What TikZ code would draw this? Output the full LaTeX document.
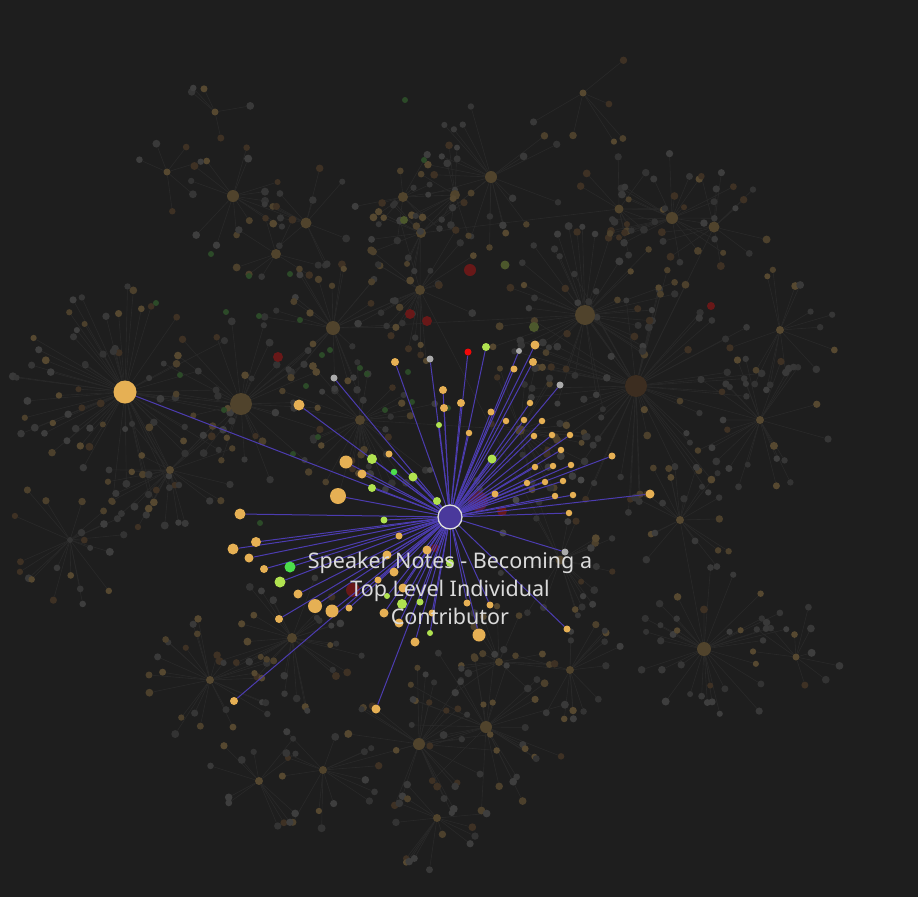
\documentclass[tikz,border=0pt]{standalone}
\usepackage{fontspec}
\setmainfont{Noto Sans}
\usetikzlibrary{calc}

\definecolor{canvas}{RGB}{30,30,30}
\definecolor{webline}{RGB}{41,41,41}
\definecolor{linkpurple}{RGB}{76,60,176}
\definecolor{hubpurple}{RGB}{74,57,156}
\definecolor{noteorange}{RGB}{230,176,84}
\definecolor{notelime}{RGB}{176,226,80}
\definecolor{notegreen}{RGB}{76,221,76}
\definecolor{notered}{RGB}{240,8,8}
\definecolor{notegrey}{RGB}{170,170,170}
\definecolor{dim0}{RGB}{51,51,51}
\definecolor{dim1}{RGB}{57,57,57}
\definecolor{dim2}{RGB}{62,62,62}
\definecolor{dim3}{RGB}{86,72,48}
\definecolor{dim4}{RGB}{62,49,36}
\definecolor{dim5}{RGB}{54,54,54}
\definecolor{dim6}{RGB}{76,64,44}
\definecolor{dimgreen}{RGB}{44,74,40}
\definecolor{dimhub}{RGB}{80,67,44}
\definecolor{dimbrown}{RGB}{60,45,32}
\definecolor{dimred}{RGB}{104,24,24}
\definecolor{dimplum}{RGB}{86,30,62}
\definecolor{dimolive}{RGB}{76,88,44}
\definecolor{dimgrey}{RGB}{72,72,72}

\pgfdeclarelayer{ground}
\pgfdeclarelayer{web}
\pgfdeclarelayer{links}
\pgfdeclarelayer{front}
\pgfsetlayers{ground,web,main,links,front}

% hubs of the faded clusters: x/y/size/colour/dots/spread
\def\clusters{
  125/392/23/dimhub/70/95, 241/404/22/dimhub/30/70, 636/386/22/dimbrown/60/110,
  585/315/20/dimhub/40/80, 333/328/14/dimhub/25/55, 233/196/12/dimhub/14/45,
  306/223/11/dimhub/12/45, 276/254/10/dimhub/8/35, 167/172/7/dim3/6/35,
  215/112/7/dim3/5/35, 491/177/12/dimhub/22/60, 403/197/10/dimhub/12/40,
  455/195/10/dimhub/10/40, 421/233/10/dimhub/12/40, 583/93/7/dim3/6/50,
  672/218/12/dimhub/25/55, 714/227/11/dimhub/12/45, 619/209/9/dimhub/12/40,
  704/649/14/dimhub/35/70, 486/727/12/dimhub/30/75, 419/744/12/dimhub/25/65,
  323/770/8/dimhub/15/50, 259/781/8/dim3/12/45, 437/818/8/dimhub/14/45,
  292/638/10/dimhub/30/65, 499/662/8/dimhub/15/45, 570/670/8/dimhub/15/45,
  796/657/7/dim3/10/40, 760/420/8/dim3/25/60, 210/680/8/dim3/25/60,
  70/540/6/dim0/22/55, 360/420/10/dimhub/35/70, 520/430/10/dimhub/25/60,
  420/290/10/dimhub/25/60, 560/560/9/dimhub/20/50, 170/470/8/dim3/25/55,
  680/520/8/dim3/20/55, 780/330/8/dim3/15/50}

% notes linked to the hovered one: x/y/size/colour
\def\notes{
  125/392/23/noteorange, 334/378/7/notegrey, 299/405/11/noteorange,
  395/362/8/noteorange, 430/359/7/notegrey, 468/352/7/notered,
  486/347/8/notelime, 519/351/6/notegrey, 535/345/9/noteorange,
  533/362/8/noteorange, 514/369/7/noteorange, 560/385/7/notegrey,
  443/390/8/noteorange, 461/403/8/noteorange, 444/408/8/noteorange,
  439/425/6/notelime, 491/412/7/noteorange, 530/403/6.5/noteorange,
  506/421/6.5/noteorange, 524/420/6.5/noteorange, 542/421/6.5/noteorange,
  469/433/6.5/noteorange, 534/436/6.5/noteorange, 552/435/6.5/noteorange,
  570/435/6.5/noteorange, 561/450/6.5/noteorange, 612/456/7/noteorange,
  492/459/9/notelime, 535/467/6.5/noteorange, 553/466/6.5/noteorange,
  571/465/6.5/noteorange, 527/483/6.5/noteorange, 545/482/6.5/noteorange,
  563/481/6.5/noteorange, 495/494/7/noteorange, 555/496/6.5/noteorange,
  573/495/6.5/noteorange, 650/494/9/noteorange, 569/513/6.5/noteorange,
  389/454/7/noteorange, 372/459/10/notelime, 346/462/13/noteorange,
  362/474/9/noteorange, 394/472/6.5/notegreen, 413/477/9/notelime,
  372/488/8/notelime, 338/496/16/noteorange, 437/501/8/notelime,
  240/514/11/noteorange, 384/520/7/notelime, 256/542/10/noteorange,
  233/549/11/noteorange, 399/536/7/noteorange, 249/558/9/noteorange,
  264/569/8/noteorange, 290/567/11/notegreen, 280/582/11/notelime,
  298/594/9/noteorange, 315/606/14/noteorange, 332/611/13/noteorange,
  349/608/7/noteorange, 279/619/8/noteorange, 427/550/9/noteorange,
  387/555/9/noteorange, 394/572/9/noteorange, 378/580/7/noteorange,
  403/588/9/noteorange, 387/596/6/notelime, 402/604/10/notelime,
  420/602/7/notelime, 384/613/9/noteorange, 399/623/9/noteorange,
  430/633/6/notelime, 415/642/9/noteorange, 234/701/8/noteorange,
  376/709/9/noteorange, 565/552/7/notegrey, 467/603/7/noteorange,
  490/605/7/noteorange, 567/629/7/noteorange, 479/635/13/noteorange,
  450/563/8/notelime, 432/613/7/noteorange}

\begin{document}
\begin{tikzpicture}[x=1pt,y=-1pt,
  blob/.style={circle,inner sep=0pt,minimum size=#1},
  webedge/.style={draw=webline,line width=0.6pt},
  link/.style={draw=linkpurple,line width=1pt}]

\begin{pgfonlayer}{ground}
\fill[canvas] (0,0) rectangle (918,897);
\end{pgfonlayer}

% faded clusters round their hubs
\pgfmathsetseed{4117}
\foreach \hx/\hy/\hd/\hc/\n/\sp [count=\k] in \clusters {
  \node[blob=\hd pt,fill=\hc] (hub\k) at (\hx,\hy) {};
  \foreach \j in {1,...,\n}{
    \pgfmathsetmacro\ang{360*rnd}
    \pgfmathsetmacro\rad{0.5*\hd+8+\sp*sqrt(rnd)}
    \pgfmathtruncatemacro\tone{int(6.99*rnd)}
    \pgfmathsetmacro\sz{6+2*rnd}
    \node[blob=\sz pt,fill=dim\tone] (hub\k-\j) at ($(hub\k)+(\ang:\rad)$) {};
  }
}
\begin{pgfonlayer}{web}
\foreach \hx/\hy/\hd/\hc/\n/\sp [count=\k] in \clusters
  \foreach \j in {1,...,\n}
    \draw[webedge] (hub\k) -- (hub\k-\j);
\foreach \a/\b in {1/2, 2/5, 5/4, 4/3, 3/17, 11/14, 14/18, 12/13, 34/35, 32/33,
  25/30, 20/21, 19/37, 29/3, 6/7, 36/2, 34/5, 33/3, 21/22, 26/27}
  \draw[webedge] (hub\a) -- (hub\b);
\end{pgfonlayer}

% faded notes that stand out
\foreach \x/\y/\d/\c [count=\i] in {
  478/501/20/dimplum, 502/511/10/dimred, 353/590/14/dimred, 470/270/12/dimred,
  410/314/10/dimred, 427/321/10/dimred, 711/306/8/dimred, 278/357/10/dimred,
  435/548/8/dimred, 534/327/10/dimolive, 505/265/9/dimolive, 404/220/8/dimolive,
  503/533/7/dimgrey, 516/500/7/dimgrey, 581/480/7/dimgrey, 430/470/6/dimgrey,
  156/303/6/dimgreen, 405/100/6/dimgreen, 211/254/6/dimgreen, 249/276/6/dimgreen,
  300/320/6/dimgreen, 322/355/6/dimgreen, 360/368/6/dimgreen, 408/372/6/dimgreen,
  259/316/6/dimgreen, 226/312/6/dimgreen, 330/350/6/dimgreen, 385/410/6/dimgreen,
  306/386/6/dimgreen, 293/454/6/dimgreen, 260/523/6/dimgreen, 180/375/6/dimgreen,
  224/410/6/dimgreen, 412/402/6/dimgreen, 448/408/6/dimgreen, 318/437/6/dimgreen,
  367/374/6/dimgreen, 424/160/6/dimgreen, 290/274/6/dimgreen}
  \node[blob=\d pt,fill=\c] (faded\i) at (\x,\y) {};

% the hovered note and its links
\begin{pgfonlayer}{front}
\node[blob=24pt,fill=hubpurple,draw=white!88!black,line width=1.3pt] (sp) at (450,517) {};
\foreach \x/\y/\d/\c [count=\i] in \notes
  \node[blob=\d pt,fill=\c] (n\i) at (\x,\y) {};
\node[align=center,text=white!86!black,font=\fontsize{21.5}{28}\selectfont,inner sep=0pt]
  (title) at (450,588) {Speaker Notes - Becoming a\\Top Level Individual\\Contributor};
\end{pgfonlayer}
\begin{pgfonlayer}{links}
\foreach \x/\y/\d/\c [count=\i] in \notes
  \draw[link] (sp) -- (n\i);
\end{pgfonlayer}
\end{tikzpicture}
\end{document}
